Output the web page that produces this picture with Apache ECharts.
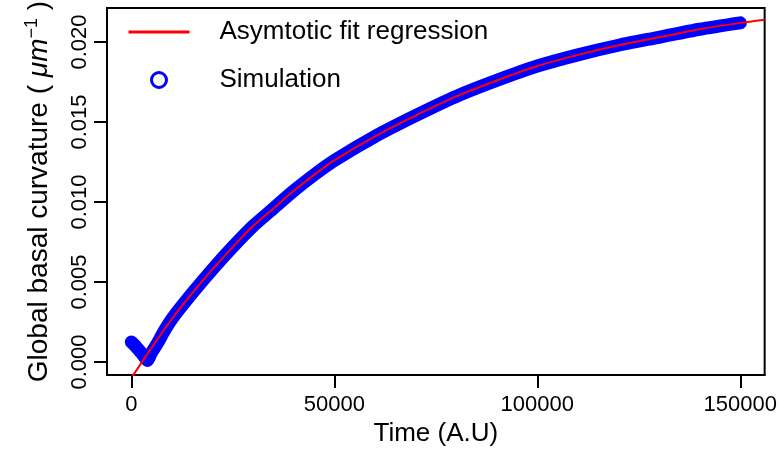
<!DOCTYPE html>
<html>
<head>
<meta charset="utf-8">
<script src="https://cdn.jsdelivr.net/npm/echarts@6/dist/echarts.min.js"></script>
<style>
  html, body { margin: 0; padding: 0; background: #fff; }
  #chart { width: 780px; height: 452px; }
</style>
</head>
<body>
<div id="chart"></div>
<script>
// values
var fitX = [0, 5000, 10000, 15000, 20000, 25000, 30000, 35000, 40000, 45000, 50000,
    60000, 70000, 80000, 90000, 100000, 110000, 120000, 130000, 140000, 150000, 156000];
var fitY = [-0.0010, 0.0009, 0.0027, 0.0043, 0.0058, 0.0072, 0.0085, 0.0096, 0.0107, 0.0117, 0.0126,
    0.0141, 0.0154, 0.0166, 0.0176, 0.0185, 0.0192, 0.0198, 0.0203, 0.0208, 0.0212, 0.0214];

var simX = [0, 1000, 2000, 3000, 3900, 5000, 6500, 8000, 10000, 15000, 20000, 25000, 30000, 35000,
    40000, 45000, 50000, 60000, 70000, 80000, 90000, 100000, 110000, 120000, 130000, 140000, 150000];
var simY = [0.00125, 0.0010, 0.0007, 0.0004, 0.0001, 0.0006, 0.0012, 0.0019, 0.0027, 0.0043, 0.0058, 0.0072, 0.0085, 0.0096,
    0.0107, 0.0117, 0.0126, 0.0141, 0.0154, 0.0166, 0.0176, 0.0185, 0.0192, 0.0198, 0.0203, 0.0208, 0.0212];

var xTicks = [0, 50000, 100000, 150000];
var yTicks = [0, 0.005, 0.010, 0.015, 0.020];

var fitName = "Asymtotic fit regression";
var simName = "Simulation";

var font = "Liberation Sans, Arial, Helvetica, sans-serif";

function pairs(xs, ys) {
    var out = [];
    for (var i = 0; i < xs.length; i++) {
        out.push([xs[i], ys[i]]);
    }
    return out;
}

var myChart = echarts.init(document.getElementById("chart"), null, { renderer: "canvas" });

var option = {
    animation: false,
    backgroundColor: "#fff",
    textStyle: { fontFamily: font, color: "#000" },
    grid: {
        left: 107,
        right: 7,
        top: 8,
        bottom: 70,
        show: true,
        borderColor: "#000",
        borderWidth: 2,
        backgroundColor: "transparent"
    },
    legend: {
        orient: "vertical",
        left: 122,
        top: 14,
        itemWidth: 61,
        itemHeight: 15,
        itemGap: 22,
        textStyle: { fontFamily: font, fontSize: 26, color: "#000", padding: [0, 0, 0, 25] },
        data: [
            {
                name: fitName,
                lineStyle: { width: 3, color: "#ff0000" },
                itemStyle: { color: "transparent", borderColor: "transparent", borderWidth: 0, opacity: 0 }
            },
            {
                name: simName,
                icon: "circle",
                lineStyle: { opacity: 0 },
                itemStyle: { color: "#fff", borderColor: "#0000ff", borderWidth: 3 }
            }
        ]
    },
    xAxis: {
        type: "value",
        min: -6000,
        max: 156000,
        name: "Time (A.U)",
        nameLocation: "middle",
        nameGap: 45,
        nameTextStyle: { fontFamily: font, fontSize: 26, color: "#000" },
        axisLine: { show: true, onZero: false, lineStyle: { color: "#000", width: 2 } },
        axisTick: { show: true, inside: false, length: 13, customValues: xTicks, lineStyle: { color: "#000", width: 2 } },
        axisLabel: {
            customValues: xTicks,
            margin: 19,
            fontFamily: font,
            fontSize: 22,
            color: "#000",
            formatter: function(v) { return String(v); }
        },
        splitLine: { show: false }
    },
    yAxis: {
        type: "value",
        min: -0.00082,
        max: 0.02213,
        name: "Global basal curvature ( {it|μm}{sup|−1} )",
        nameLocation: "middle",
        nameGap: 51,
        nameRotate: 90,
        nameTextStyle: {
            fontFamily: font,
            fontSize: 28,
            color: "#000",
            rich: {
                it: { fontFamily: font, fontSize: 28, fontStyle: "italic", color: "#000" },
                sup: { fontFamily: font, fontSize: 18, color: "#000", verticalAlign: "top", padding: [0, 0, 15, 0] }
            }
        },
        axisLine: { show: true, onZero: false, lineStyle: { color: "#000", width: 2 } },
        axisTick: { show: true, inside: false, length: 13, customValues: yTicks, lineStyle: { color: "#000", width: 2 } },
        axisLabel: {
            customValues: yTicks,
            rotate: 90,
            margin: 16,
            fontFamily: font,
            fontSize: 22,
            color: "#000",
            formatter: function(v) { return v.toFixed(3); }
        },
        splitLine: { show: false }
    },
    series: [
        {
            name: simName,
            type: "line",
            data: pairs(simX, simY),
            smooth: 0.25,
            symbol: "none",
            color: "#0000ff",
            lineStyle: { color: "#0000ff", width: 13, cap: "round", join: "round" },
            z: 2
        },
        {
            name: fitName,
            type: "line",
            data: pairs(fitX, fitY),
            smooth: 0.25,
            symbol: "none",
            color: "#ff0000",
            lineStyle: { color: "#ff0000", width: 2 },
            z: 3
        }
    ]
};

myChart.setOption(option);
</script>
</body>
</html>
